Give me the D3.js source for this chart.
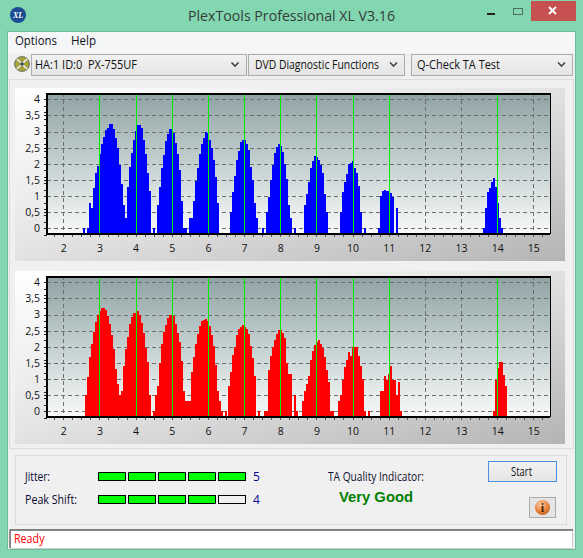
<!DOCTYPE html>
<html><head><meta charset="utf-8">
<script src="https://cdnjs.cloudflare.com/ajax/libs/d3/7.8.5/d3.min.js"></script>
<style>html,body{margin:0;padding:0;background:#82d6b0;overflow:hidden}svg{display:block}text{font-family:"Open Sans","Noto Sans",sans-serif}</style>
</head><body><svg id="c" width="583" height="558"></svg>
<script>
const _=null;
const xTicks=[2,3,4,5,6,7,8,9,10,11,12,13,14,15];
const yTicks=[0,0.5,1,1.5,2,2.5,3,3.5,4];
const greenAt=[3,4,5,6,7,8,9,10,11,14];
const binStart=2.5, binsPerUnit=18;
const blueValues=[_,0,_,0,.78,.62,1.24,1.7,1.93,2.3,2.6,2.83,3.05,3.1,3.23,3.23,3.08,2.8,2.48,1.96,1.37,.72,.32,1.28,1.9,2.34,2.74,3.03,3.2,3.2,3.11,2.74,2.3,1.72,1.16,_,0,_,.72,1.28,1.87,2.27,2.7,2.92,3.08,3.08,2.97,2.65,2.3,1.8,.85,0,0,_,.32,.32,.85,1.47,1.87,2.3,2.6,2.8,3,2.96,2.74,2.5,2.12,1.6,.78,_,_,_,_,_,.5,1.13,1.62,2.12,2.4,2.68,2.74,2.74,2.6,2.43,1.9,1.5,.78,.32,_,_,0,_,.5,.97,1.5,1.96,2.34,2.52,2.6,2.55,2.37,2,1.53,.72,.32,_,0,_,_,_,_,.72,1.06,1.44,1.87,2.09,2.24,2.2,2.12,1.96,1.72,1.06,.5,_,_,_,_,_,_,.5,1.13,1.44,1.68,2,2.03,2.09,1.87,1.72,1.32,.5,_,0,_,_,_,_,_,_,0,1,1.16,1.19,1.16,1.16,1.1,.97,_,.63,
_,_,_,_,_,_,_,_,_,_,_,_,_,_,_,_,_,_,_,_,_,_,_,_,_,_,_,_,_,_,_,_,_,_,_,_,_,_,_,_,_,_,
0,.63,1.13,1.25,1.44,1.56,1.28,.78,.32,0];
const redValues=[_,_,.5,1.06,1.68,2.09,2.46,2.77,2.99,3.12,3.2,3.2,3.14,2.96,2.7,2.37,1.93,1.32,.85,.5,.63,1.4,1.93,2.3,2.7,2.92,3.05,3.05,3.11,3,2.74,2.43,1.96,1.53,.5,_,0,.5,.78,1.5,2.09,2.46,2.68,2.9,3,3,2.96,2.7,2.43,2.15,1.56,.63,.32,.32,.32,1.22,1.68,2.09,2.4,2.65,2.8,2.83,2.86,2.8,2.65,2.37,2.03,1.44,.63,.32,0,_,0,.78,1.22,1.75,2,2.37,2.55,2.6,2.68,2.6,2.55,2.4,2.03,1.65,1.1,_,0,_,_,0,0,1.28,1.72,2,2.21,2.4,2.52,2.52,2.43,2.27,1.5,1.16,1.16,_,.5,0,_,_,.32,.63,.85,1.1,1.6,1.87,2.06,2.15,2.2,2.09,1.96,1.68,1.28,.91,0,0,_,_,.32,.5,.97,1.37,1.6,1.84,1.72,2,2,2,1.72,1.4,1,0,_,0,_,_,_,_,_,.63,.63,1.1,.97,1.16,1.4,.97,.97,.5,.91,0,
_,_,_,_,_,_,_,_,_,_,_,_,_,_,_,_,_,_,_,_,_,_,_,_,_,_,_,_,_,_,_,_,_,_,_,_,_,_,_,_,_,_,_,_,_,
0,.97,1.34,1.53,1.53,1.13,.78];
const menuItems=["Options","Help"];
const dropdowns=["HA:1 ID:0  PX-755UF","DVD Diagnostic Functions","Q-Check TA Test"];
const meters=[["Jitter:",5],["Peak Shift:",4]];
const meterSegments=5;

const svg=d3.select("#c");
const defs=svg.append("defs");
function lin(id,x1,y1,x2,y2,stops){const g=defs.append("linearGradient").attr("id",id).attr("x1",x1).attr("y1",y1).attr("x2",x2).attr("y2",y2);
 stops.forEach(s=>g.append("stop").attr("offset",s[0]).attr("stop-color",s[1]));}
lin("plotBg",0,0,0,1,[[0,"#8fa3a4"],[.5,"#c4d0d0"],[1,"#f8f9f9"]]);
lin("panelBg",0,0,1,1,[[0,"#ffffff"],[.45,"#e6e6e6"],[1,"#b4b4b4"]]);
lin("btn",0,0,0,1,[[0,"#f2f2f2"],[1,"#e4e4e4"]]);
const rg=defs.append("radialGradient").attr("id","orb").attr("cx",.4).attr("cy",.3).attr("r",.8);
rg.append("stop").attr("offset",0).attr("stop-color","#fbcfa8");rg.append("stop").attr("offset",.6).attr("stop-color","#e8813a");rg.append("stop").attr("offset",1).attr("stop-color","#b85a1e");

const txt=(t,x,y,o={})=>{const s=svg.append("text").attr("x",x).attr("y",y).attr("font-size",o.size||12).attr("fill",o.fill||"#111").attr("font-weight",o.weight||null).attr("text-anchor",o.anchor||"start").attr("xml:space","preserve").style("font-family",o.family||null).text(t);
 if(o.len)s.attr("textLength",o.len).attr("lengthAdjust","spacingAndGlyphs");return s;};
const rect=(x,y,w,h,f,s,sw)=>svg.append("rect").attr("x",x).attr("y",y).attr("width",w).attr("height",h).attr("fill",f||"none").attr("stroke",s||"none").attr("stroke-width",sw||1).attr("shape-rendering","crispEdges");

// window
rect(0,0,583,558,"#82d6b0");
rect(7.5,31.5,568,518,"#f0f0f0","#6fb898");
rect(8,32,567,21,"#f5f6f7");
svg.append("circle").attr("cx",18).attr("cy",15).attr("r",8).attr("fill","#1d4c94");
txt("XL",18,18,{size:8,fill:"#fff",anchor:"middle",weight:"bold",family:"Liberation Serif"}).attr("font-style","italic");
txt("PlexTools Professional XL V3.16",188,21,{size:15,fill:"#333c3a",len:207});
// window buttons
rect(487,13,8,2,"#222");
rect(513.5,8.5,9,6,"none","#4d6f62",1.5);
rect(531,1,45,20,"#c75050");
svg.append("path").attr("d","M549 7l7 7m0-7l-7 7").attr("stroke","#fff").attr("stroke-width",2).attr("fill","none");
// menu
txt(menuItems[0],15,45,{size:12,fill:"#10101a",len:42});
txt(menuItems[1],71,45,{size:12,fill:"#10101a",len:25});
// CD icon
svg.append("circle").attr("cx",22).attr("cy",64).attr("r",7.5).attr("fill","#a3a33a").attr("stroke","#777");
svg.append("path").attr("d","M17 59L27 69M27 59L17 69").attr("stroke","#eef").attr("stroke-width",1.6);
svg.append("circle").attr("cx",22).attr("cy",64).attr("r",1.8).attr("fill","#445");
// dropdowns
[[31,214.5,35,102],[248,156,255,124],[411,161,417,83]].forEach((d,i)=>{
 rect(d[0]+.5,54.5,d[1],21,"url(#btn)","#acacac");
 txt(dropdowns[i],d[2],69,{size:12,fill:"#111",len:d[3]});
 const ax=d[0]+d[1]-11;
 svg.append("path").attr("d",`M${ax-3} 62.5l3.5 3.5l3.5-3.5`).attr("stroke","#444").attr("stroke-width",1.6).attr("fill","none");
});
// tab page border
rect(9.5,79.5,564,369,"#f0f0f0","#dcdcdc");

const x=d3.scaleLinear().domain([2,15]).range([63.3,533.3]);
const binX=i=>Math.floor(x(binStart+i/binsPerUnit));
const fmt=v=>String(v).replace(".",",");
function chart(top,values,color){
 const off=top-93;
 const y=d3.scaleLinear().domain([0,4]).range([228.3+off,99.3+off]);
 const bottom=233.5+off;
 rect(15,88+off,550,173,"url(#panelBg)");
 rect(47,93+off,503,bottom-93-off,"url(#plotBg)");
 const g=svg.append("g");
 // grid
 g.selectAll(".h").data(yTicks).join("line").attr("x1",47).attr("x2",550).attr("y1",d=>Math.round(y(d))+.5).attr("y2",d=>Math.round(y(d))+.5)
  .attr("stroke","#6f6f6f").attr("stroke-dasharray","4 3");
 g.selectAll(".v").data(xTicks).join("line").attr("x1",d=>Math.round(x(d))+.5).attr("x2",d=>Math.round(x(d))+.5).attr("y1",93+off).attr("y2",bottom)
  .attr("stroke","#6f6f6f").attr("stroke-dasharray","4 3");
 // bars
 g.selectAll(".b").data(values.map((v,i)=>({v,i})).filter(d=>d.v!==null)).join("rect")
  .attr("x",d=>binX(d.i)).attr("width",2).attr("y",d=>y(d.v)).attr("height",d=>bottom-y(d.v)).attr("fill",color).attr("shape-rendering","crispEdges");
 // green
 g.selectAll(".g").data(greenAt).join("line").attr("x1",d=>Math.round(x(d))+.5).attr("x2",d=>Math.round(x(d))+.5).attr("y1",93+off).attr("y2",bottom)
  .attr("stroke","#00f000").attr("stroke-width",1);
 // axes
 const ay=svg.append("g").attr("transform","translate(47,0)").call(d3.axisLeft(y).tickValues(yTicks).tickFormat(fmt).tickSize(0).tickPadding(7));
 ay.select(".domain").remove();
 ay.selectAll("text").attr("font-size",10.5).attr("fill","#111").style("font-family","'Open Sans'");
 const minorY=[...d3.range(-0.2,4.1,0.2),...yTicks];
 svg.append("g").selectAll("line").data(minorY).join("line").attr("x1",44).attr("x2",47).attr("y1",d=>Math.round(y(d))+.5).attr("y2",d=>Math.round(y(d))+.5).attr("stroke","#222");
 const ax=svg.append("g").attr("transform",`translate(0,${bottom})`).call(d3.axisBottom(x).tickValues(xTicks).tickFormat(d3.format("d")).tickSize(0).tickPadding(10.7));
 ax.select(".domain").remove();
 ax.selectAll("text").attr("font-size",10.5).attr("fill","#111").style("font-family","'Open Sans'");
 const minorX=d3.range(1.75,15.5,.25);
 svg.append("g").selectAll("line").data(minorX).join("line").attr("x1",d=>Math.round(x(d))+.5).attr("x2",d=>Math.round(x(d))+.5).attr("y1",bottom).attr("y2",bottom+3.5).attr("stroke","#555");
 // frame
 rect(47,93+off,503,1.5,"#000");
 rect(46,93+off,2,bottom-93-off+1,"#000");
 rect(46,bottom-1,504,2.5,"#000");
 rect(549.5,93+off,1,bottom-93-off,"#000");
}
chart(93,blueValues,"#0000ff");
chart(276,redValues,"#ff0000");

// bottom group
rect(15.5,455.5,551,69,"#f0f0f0","#dcdcdc");
meters.forEach((m,k)=>{
 const yy=[472.5,495.5][k];
 txt(m[0],25,[481,504][k],{size:12,fill:"#0a0a30",len:k?52:25});
 d3.range(meterSegments).forEach(i=>rect(98.5+30*i,yy,27,8,i<m[1]?"#00ff00":"#f0f0f0","#000"));
 txt(String(m[1]),253,[481,504][k],{size:12,fill:"#00008b"});
});
txt("TA Quality Indicator:",328,481,{size:12,fill:"#101030",len:96});
txt("Very Good",339,501.5,{size:15,weight:"bold",fill:"#008000",family:"Liberation Sans",len:74});
rect(488.5,461.5,68,20,"url(#btn)","#4a90e0");
txt("Start",511,476,{size:12,len:21});
rect(529.5,497.5,26,20,"#e4e4e4","#aaa");
svg.append("circle").attr("cx",542.5).attr("cy",507.5).attr("r",7.5).attr("fill","url(#orb)");
txt("i",542.5,512,{size:12,weight:"bold",anchor:"middle",fill:"#4a1d00",family:"Liberation Serif"});
// status
rect(10.5,529.5,562,18.5,"#fff","#d0d0d0");
svg.append("path").attr("d","M10 548V530H573").attr("stroke","#666").attr("stroke-width",1.4).attr("fill","none");
txt("Ready",14,543,{size:12,fill:"#ff0000",len:30.5});
</script></body></html>
